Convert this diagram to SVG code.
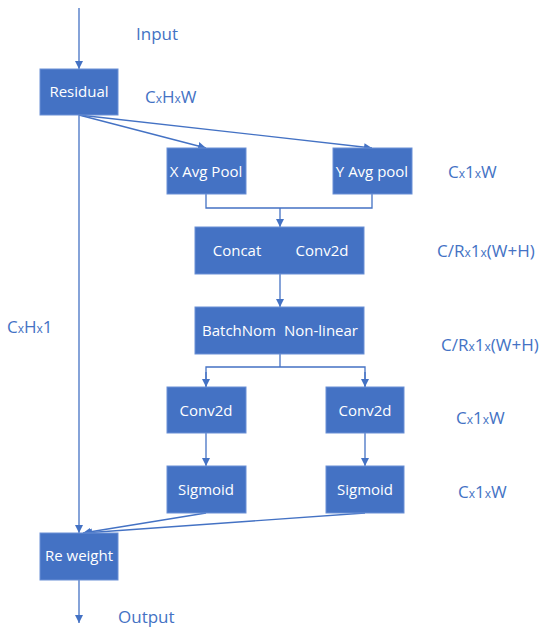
<svg xmlns="http://www.w3.org/2000/svg" width="550" height="637" viewBox="0 0 550 637">
<style>
.box{fill:#4472C4;stroke:#6a90d6;stroke-width:1}
.bt{fill:#fff;font-family:"Open Sans","Liberation Sans",sans-serif;font-size:15px;text-anchor:middle}
.lb{fill:#4472C4;font-family:"Open Sans","Liberation Sans",sans-serif;font-size:17px}
.sm{font-size:12px}
.ln{fill:none;stroke:#4472C4;stroke-width:1.3}
</style>
<defs>
<marker id="ah" viewBox="0 0 10 10" refX="10" refY="5" markerWidth="8" markerHeight="8" markerUnits="userSpaceOnUse" orient="auto">
<path d="M0,0 L10,5 L0,10 z" fill="#4472C4"/>
</marker>
</defs>
<rect width="550" height="637" fill="#fff"/>
<g id="connectors">
<line class="ln" x1="79" y1="8" x2="79" y2="69" marker-end="url(#ah)"/>
<line class="ln" x1="79" y1="115" x2="79" y2="533" marker-end="url(#ah)"/>
<line class="ln" x1="79" y1="115" x2="206" y2="148" marker-end="url(#ah)"/>
<line class="ln" x1="79" y1="115" x2="372" y2="148" marker-end="url(#ah)"/>
<polyline class="ln" points="206,194 206,208 372,208 372,194"/>
<line class="ln" x1="280" y1="208" x2="280" y2="227" marker-end="url(#ah)"/>
<line class="ln" x1="280" y1="274" x2="280" y2="307" marker-end="url(#ah)"/>
<polyline class="ln" points="280,354 280,367"/>
<polyline class="ln" points="206,387 206,367 365,367 365,387"/>
<line class="ln" x1="206" y1="372" x2="206" y2="387" marker-end="url(#ah)"/>
<line class="ln" x1="365" y1="372" x2="365" y2="387" marker-end="url(#ah)"/>
<line class="ln" x1="206" y1="433" x2="206" y2="466" marker-end="url(#ah)"/>
<line class="ln" x1="365" y1="433" x2="365" y2="466" marker-end="url(#ah)"/>
<line class="ln" x1="206" y1="513" x2="83" y2="533" marker-end="url(#ah)"/>
<line class="ln" x1="365" y1="513" x2="84" y2="533" marker-end="url(#ah)"/>
<line class="ln" x1="79" y1="580" x2="79" y2="623" marker-end="url(#ah)"/>
</g>
<g id="residual"><rect class="box" x="40" y="69" width="78" height="46"/><text class="bt" x="79" y="97">Residual</text></g>
<g id="xavg"><rect class="box" x="167" y="148" width="79" height="46"/><text class="bt" x="206" y="177">X Avg Pool</text></g>
<g id="yavg"><rect class="box" x="333" y="148" width="79" height="46"/><text class="bt" x="372" y="177">Y Avg pool</text></g>
<g id="concat"><rect class="box" x="195" y="227" width="169" height="47"/><text class="bt" x="237" y="256">Concat</text><text class="bt" x="322" y="256">Conv2d</text></g>
<g id="batchnorm"><rect class="box" x="195" y="307" width="169" height="47"/><text class="bt" x="239" y="336">BatchNom</text><text class="bt" x="321" y="336">Non-linear</text></g>
<g id="conv-left"><rect class="box" x="167" y="387" width="79" height="46"/><text class="bt" x="206" y="416">Conv2d</text></g>
<g id="conv-right"><rect class="box" x="326" y="387" width="78" height="46"/><text class="bt" x="365" y="416">Conv2d</text></g>
<g id="sig-left"><rect class="box" x="167" y="466" width="79" height="47"/><text class="bt" x="206" y="495">Sigmoid</text></g>
<g id="sig-right"><rect class="box" x="326" y="466" width="78" height="47"/><text class="bt" x="365" y="495">Sigmoid</text></g>
<g id="reweight"><rect class="box" x="40" y="533" width="78" height="47"/><text class="bt" x="79" y="561">Re weight</text></g>
<g id="labels">
<text class="lb" x="136" y="40">Input</text>
<text class="lb" x="145" y="103">C<tspan class="sm">x</tspan>H<tspan class="sm">x</tspan>W</text>
<text class="lb" x="448" y="178">C<tspan class="sm">x</tspan>1<tspan class="sm">x</tspan>W</text>
<text class="lb" x="437" y="257">C/R<tspan class="sm">x</tspan>1<tspan class="sm">x</tspan>(W+H)</text>
<text class="lb" x="441" y="351">C/R<tspan class="sm">x</tspan>1<tspan class="sm">x</tspan>(W+H)</text>
<text class="lb" x="7" y="333">C<tspan class="sm">x</tspan>H<tspan class="sm">x</tspan>1</text>
<text class="lb" x="456" y="424">C<tspan class="sm">x</tspan>1<tspan class="sm">x</tspan>W</text>
<text class="lb" x="458" y="498">C<tspan class="sm">x</tspan>1<tspan class="sm">x</tspan>W</text>
<text class="lb" x="118" y="623">Output</text>
</g>
</svg>
